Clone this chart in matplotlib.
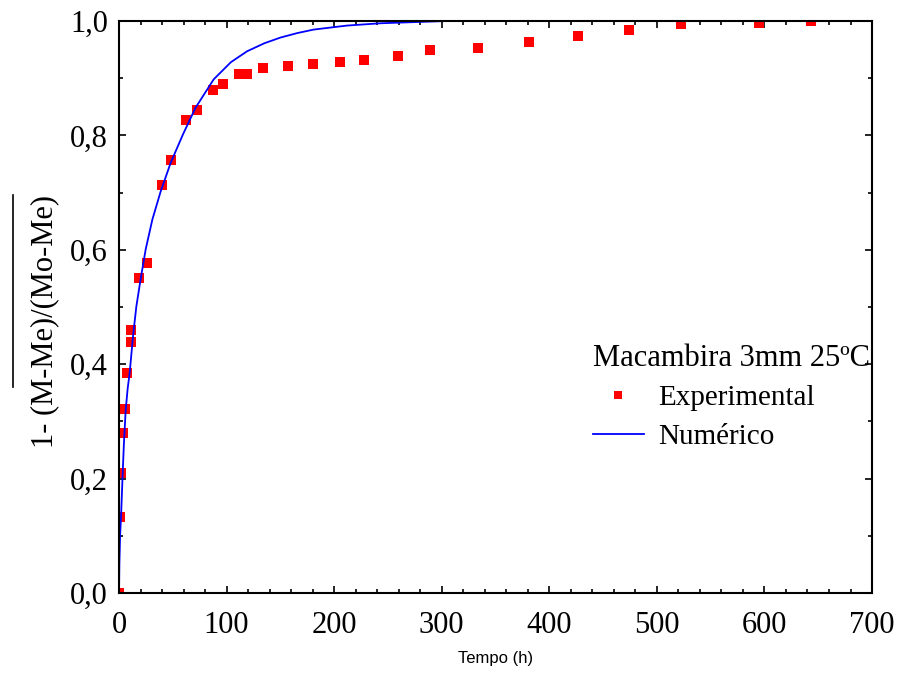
import matplotlib
matplotlib.use("Agg")
import matplotlib.pyplot as plt
from matplotlib.lines import Line2D
from matplotlib.ticker import MultipleLocator, FuncFormatter

# Dados experimentais (tempo em horas, razao adimensional de umidade)
tempo_exp = [0, 0.5, 2, 3.8, 5.7, 7.1, 10.8, 11.1, 18.6, 25.7, 40.3, 48,
             62.6, 72.5, 87.3, 96.6, 111.8, 119.2, 133.8, 157.4, 180, 205.7,
             228, 259.7, 289, 333.5, 381, 426.5, 474, 522.6, 595, 643]
umid_exp = [0.0, 0.133, 0.209, 0.279, 0.321, 0.385, 0.459, 0.438, 0.550,
            0.577, 0.714, 0.757, 0.827, 0.845, 0.879, 0.890, 0.907, 0.907,
            0.918, 0.922, 0.925, 0.929, 0.932, 0.939, 0.950, 0.953, 0.964,
            0.974, 0.985, 0.994, 0.9965, 1.0]

# Solucao numerica
tempo_num = [0, 0.3, 1, 2, 3.4, 4.5, 6.2, 8, 9.9, 13, 16.1, 20.1, 24.8, 31,
             38.7, 48, 59.5, 71, 88, 104, 119, 135, 150, 166, 181, 212, 243,
             274, 305]
umid_num = [0.0, 0.05, 0.10, 0.14, 0.209, 0.26, 0.32, 0.357, 0.385, 0.449,
            0.501, 0.549, 0.601, 0.653, 0.702, 0.752, 0.802, 0.848, 0.898,
            0.928, 0.947, 0.961, 0.971, 0.979, 0.985, 0.992, 0.996, 0.998, 1.0]

x_ticks = [0, 100, 200, 300, 400, 500, 600, 700]
y_ticks = [0.0, 0.2, 0.4, 0.6, 0.8, 1.0]

plt.rcParams['font.family'] = 'Liberation Serif'

fig = plt.figure(figsize=(8.99, 6.77), dpi=100)
ax = fig.add_axes([0.1324, 0.124, 0.8376, 0.845])

ax.plot(tempo_exp, umid_exp, linestyle='none', marker='s', markersize=6.8,
        color='red', markeredgewidth=0, label='Experimental')
ax.plot(tempo_num, umid_num, color='blue', linewidth=1.3, label='Numérico')

ax.set_xlim(0, 700)
ax.set_ylim(0, 1.0)
ax.set_xticks(x_ticks)
ax.set_yticks(y_ticks)
ax.xaxis.set_minor_locator(MultipleLocator(20))
ax.yaxis.set_minor_locator(MultipleLocator(0.1))
ax.yaxis.set_major_formatter(FuncFormatter(lambda v, p: f"{v:.1f}".replace('.', ',')))

ax.tick_params(which='both', direction='in', top=True, right=True,
               width=1.2, labelsize=22)
ax.tick_params(axis='x', pad=13)
ax.tick_params(axis='y', pad=8)
ax.tick_params(which='major', length=5)
ax.tick_params(which='minor', length=3)
for s in ax.spines.values():
    s.set_linewidth(1.5)

ax.set_xlabel('Tempo (h)', family='Liberation Sans', fontsize=12, labelpad=8)

# rotulo do eixo y com a barra sobre a fracao
fig.text(45 / 899, 1 - 321 / 677, '1- (M-Me)/(Mo-Me)', rotation=90,
         ha='center', va='center', fontsize=22)
fig.add_artist(Line2D([13 / 899, 13 / 899], [1 - 195 / 677, 1 - 387 / 677],
                      color='black', linewidth=1.2))

leg = ax.legend(title='Macambira 3mm 25ºC', frameon=False, loc='center',
                bbox_to_anchor=(0.813, 0.343), fontsize=21, title_fontsize=22,
                handlelength=1.75, handletextpad=0.5, labelspacing=0.42,
                borderpad=0, alignment='left', markerscale=0.9)

fig.savefig('out.png', dpi=100)
